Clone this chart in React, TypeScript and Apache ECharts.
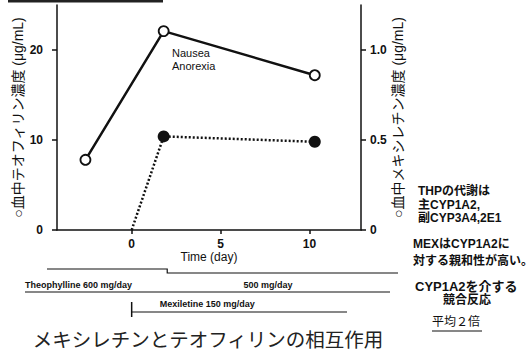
import React, { useEffect, useRef } from "react";
import * as echarts from "echarts";

// ---- data ----
const thpDays = [-2.6, 1.8, 10.3];
const thpConc = [7.8, 22.1, 17.2]; // μg/mL (left axis)
const mexDays = [0, 1.8, 10.3];
const mexConc = [0, 0.52, 0.49]; // μg/mL (right axis)
const xTicks = [0, 5, 10];
const yLeftTicks = [0, 10, 20];
const yRightTicks = [0, 0.5, 1.0];
const thpDoseLabels = ["Theophylline 600 mg/day", "500 mg/day"];
const mexDoseLabel = "Mexiletine 150 mg/day";
const thpChangeDay = 2;
const mexStartDay = 0;
const noteLines = ["Nausea", "Anorexia"];
const thpNote = ["THPの代謝は", "主CYP1A2,", "副CYP3A4,2E1"];
const mexNote = ["MEXはCYP1A2に", "対する親和性が高い。"];
const compNote = ["CYP1A2を介する", "競合反応"];
const avgNote = "平均２倍";
const title = "メキシレチンとテオフィリンの相互作用";

const F = '"Liberation Sans", Arial, "Noto Sans CJK JP", sans-serif';
const INK = "#111";

export default function App() {
  const ref = useRef<HTMLDivElement>(null);
  useEffect(() => {
    document.body.style.margin = "0";
    const chart = echarts.init(ref.current!, null, { renderer: "svg" });
    const axisText = { color: INK, fontFamily: F, fontSize: 12, fontWeight: "bold" as const };
    const axisLine = { show: true, onZero: false, lineStyle: { color: INK, width: 1.5 } };
    chart.setOption({
      animation: false,
      backgroundColor: "#fff",
      grid: { left: 57, right: 171, top: 5, bottom: 122 },
      xAxis: {
        type: "value",
        min: -4.2,
        max: 12.9,
        name: "Time (day)",
        nameLocation: "middle",
        nameGap: 21,
        nameMoveOverlap: false,
        nameTextStyle: { color: INK, fontFamily: F, fontSize: 12 },
        axisLine,
        axisTick: { show: true, customValues: xTicks, length: 4, lineStyle: { color: INK, width: 1.5 } },
        axisLabel: { customValues: xTicks, margin: 8, ...axisText },
        splitLine: { show: false },
      },
      yAxis: [
        {
          type: "value",
          position: "left",
          min: 0,
          max: 25,
          name: "○血中テオフィリン濃度 (μg/mL)",
          nameLocation: "middle",
          nameRotate: 90,
          nameGap: 32,
          nameMoveOverlap: false,
          nameTextStyle: { color: INK, fontFamily: F, fontSize: 14 },
          axisLine,
          axisTick: { show: true, customValues: yLeftTicks, length: 5, lineStyle: { color: INK, width: 1.5 } },
          axisLabel: { customValues: yLeftTicks, margin: 14, ...axisText },
          splitLine: { show: false },
        },
        {
          type: "value",
          position: "right",
          min: 0,
          max: 1.25,
          name: "○血中メキシレチン濃度 (μg/mL)",
          nameLocation: "middle",
          nameRotate: 90,
          nameGap: 30,
          nameMoveOverlap: false,
          nameTextStyle: { color: INK, fontFamily: F, fontSize: 14 },
          axisLine,
          axisTick: { show: true, customValues: yRightTicks, length: 5, lineStyle: { color: INK, width: 1.5 } },
          axisLabel: {
            customValues: yRightTicks,
            margin: 9,
            formatter: (v: number) => (v === 0 ? "0" : v.toFixed(1)),
            ...axisText,
          },
          splitLine: { show: false },
        },
      ],
      series: [
        {
          type: "line",
          yAxisIndex: 1,
          data: mexDays.map((d, i) => ({
            value: [d, mexConc[i]],
            symbol: mexConc[i] === 0 ? "none" : "circle",
          })),
          symbolSize: 12,
          lineStyle: { color: INK, width: 2.5, type: [2, 2] },
          itemStyle: { color: INK },
          z: 2,
        },
        {
          type: "line",
          yAxisIndex: 0,
          data: thpDays.map((d, i) => [d, thpConc[i]]),
          symbol: "circle",
          symbolSize: 10,
          showAllSymbol: true,
          lineStyle: { color: INK, width: 2.5 },
          itemStyle: { color: "#fff", borderColor: INK, borderWidth: 1.8 },
          z: 3,
        },
      ],
    });

    const px = (d: number) => chart.convertToPixel({ xAxisIndex: 0 }, d) as number;
    const xChange = px(thpChangeDay);
    const xMex = px(mexStartDay);
    const small = { fontFamily: F, fontSize: 9, fontWeight: "bold" as const, fill: INK };
    const note = { fontFamily: F, fontSize: 12, fontWeight: "bold" as const, fill: INK };

    const graphic: any[] = [
      // cut-off heading underline at the top
      { type: "rect", shape: { x: 8, y: 0, width: 155, height: 2.5 }, style: { fill: "#222" } },
      // annotations in the plot
      ...noteLines.map((t, i) => ({
        type: "text", x: 172, y: 47 + i * 13,
        style: { text: t, fontFamily: F, fontSize: 11, fill: INK },
      })),
      // dosing timeline
      { type: "polyline", shape: { points: [[47, 269], [xChange, 269], [xChange, 273], [398, 273]] }, style: { stroke: INK, lineWidth: 1.2, fill: null } },
      { type: "text", x: 25, y: 280, style: { text: thpDoseLabels[0], ...small } },
      { type: "text", x: 268, y: 280, style: { text: thpDoseLabels[1], align: "center", ...small } },
      { type: "line", shape: { x1: 25, y1: 292, x2: 390, y2: 292 }, style: { stroke: INK, lineWidth: 1.2 } },
      { type: "text", x: xMex + 28, y: 299, style: { text: mexDoseLabel, ...small } },
      { type: "line", shape: { x1: xMex, y1: 302, x2: xMex, y2: 317 }, style: { stroke: INK, lineWidth: 1.5 } },
      { type: "line", shape: { x1: xMex, y1: 312, x2: 347, y2: 312 }, style: { stroke: INK, lineWidth: 1.2 } },
      // right-side notes
      ...thpNote.map((t, i) => ({ type: "text", x: 418, y: 185 + i * 13.5, style: { text: t, ...note } })),
      ...mexNote.map((t, i) => ({ type: "text", x: 413, y: 238 + i * 17, style: { text: t, ...note } })),
      { type: "text", x: 415, y: 280, style: { text: compNote[0], ...note, fontSize: 13 } },
      { type: "text", x: 443, y: 294, style: { text: compNote[1], ...note, fontSize: 12 } },
      { type: "text", x: 432, y: 316, style: { text: avgNote, fontFamily: F, fontSize: 12, fill: INK } },
      { type: "line", shape: { x1: 432, y1: 331, x2: 482, y2: 331 }, style: { stroke: INK, lineWidth: 1.2 } },
      // bottom title
      { type: "text", x: 208, y: 340, style: { text: title, align: "center", verticalAlign: "middle", fontFamily: F, fontSize: 19.5, fill: "#222" } },
    ];
    chart.setOption({ graphic });
    return () => chart.dispose();
  }, []);
  return <div ref={ref} style={{ position: "absolute", left: 0, top: 0, width: 532, height: 352 }} />;
}
